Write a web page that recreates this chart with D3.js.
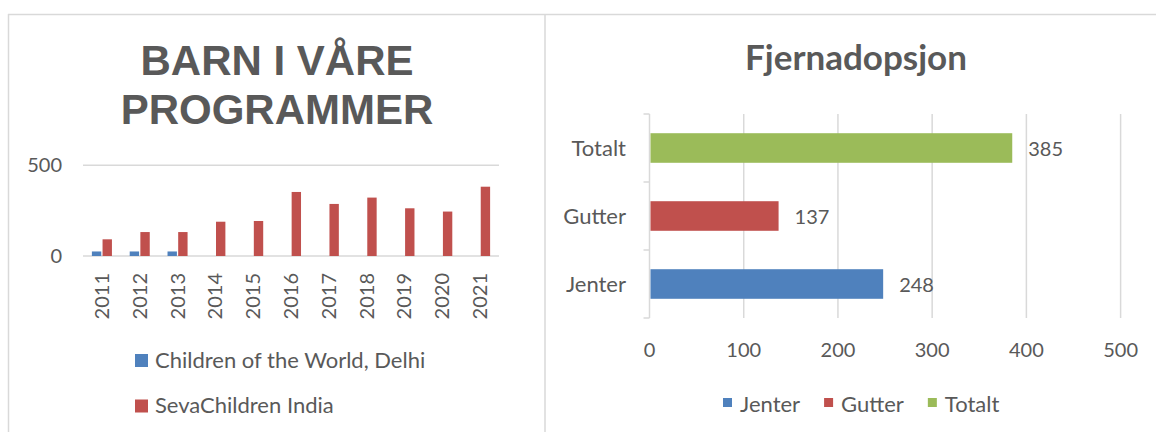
<!DOCTYPE html>
<html>
<head>
<meta charset="utf-8">
<script src="https://cdn.jsdelivr.net/npm/d3@7"></script>
<style>
  body { margin: 0; background: #fff; }
  text { font-family: Lato, "Open Sans", sans-serif; fill: #595959; }
</style>
</head>
<body>
<div id="chart"></div>
<script>
// left chart data
var years = ["2011","2012","2013","2014","2015","2016","2017","2018","2019","2020","2021"];
var cotwDelhi = [25, 25, 25, null, null, null, null, null, null, null, null];
var sevaIndia = [92, 132, 132, 189, 193, 353, 287, 322, 263, 245, 382];
var leftTicks = [0, 500];
var leftSeries = ["Children of the World, Delhi", "SevaChildren India"];

// right chart data
var kjonn = ["Jenter", "Gutter", "Totalt"];
var antall = [248, 137, 385];
var rightTicks = [0, 100, 200, 300, 400, 500];

var colors = ["#4f81bd", "#c0504d", "#9bbb59"];
var grid = "#d9d9d9";

var svg = d3.select("#chart")
            .append("svg")
            .attr("width", 1156)
            .attr("height", 432);

// frame lines
svg.append("line").attr("x1", 8).attr("x2", 1156).attr("y1", 14.5).attr("y2", 14.5)
   .style("stroke", grid).style("stroke-width", 1.5);
svg.append("line").attr("x1", 8.5).attr("x2", 8.5).attr("y1", 14).attr("y2", 432)
   .style("stroke", grid).style("stroke-width", 1.5);
svg.append("line").attr("x1", 545).attr("x2", 545).attr("y1", 14).attr("y2", 432)
   .style("stroke", grid).style("stroke-width", 1.5);

// ---------- left chart ----------
["BARN I VÅRE", "PROGRAMMER"].forEach(function(line, i) {
  svg.append("text")
     .attr("x", 277).attr("y", 75 + i * 49)
     .attr("text-anchor", "middle")
     .style("font-family", "'Liberation Sans', Arial, sans-serif")
     .style("font-weight", "bold")
     .style("font-size", "42px")
     .text(line);
});

var xLeft = d3.scaleBand()
              .domain(years)
              .range([83, 499]);
var xSub = d3.scaleBand()
             .domain([0, 1])
             .range([0, xLeft.bandwidth() * 0.53])
             .paddingInner(0.12);
var yLeft = d3.scaleLinear()
              .domain([0, 500])
              .range([256, 165.3]);

// gridlines
svg.append("g")
   .selectAll("line")
   .data(leftTicks)
   .enter()
   .append("line")
   .attr("x1", 83).attr("x2", 499)
   .attr("y1", function(d) { return yLeft(d); })
   .attr("y2", function(d) { return yLeft(d); })
   .style("stroke", grid).style("stroke-width", 1.5);

svg.append("g")
   .selectAll("text")
   .data(leftTicks)
   .enter()
   .append("text")
   .attr("x", 62)
   .attr("y", function(d) { return yLeft(d); })
   .attr("dy", "0.35em")
   .attr("text-anchor", "end")
   .style("font-size", "20px")
   .text(function(d) { return d; });

var groupOffset = (xLeft.bandwidth() - xSub.range()[1]) / 2;
[cotwDelhi, sevaIndia].forEach(function(series, s) {
  svg.append("g")
     .selectAll("rect")
     .data(series.map(function(v, i) { return {year: years[i], value: v}; })
                 .filter(function(d) { return d.value !== null; }))
     .enter()
     .append("rect")
     .attr("x", function(d) { return xLeft(d.year) + groupOffset + xSub(s); })
     .attr("y", function(d) { return yLeft(d.value); })
     .attr("width", xSub.bandwidth())
     .attr("height", function(d) { return yLeft(0) - yLeft(d.value); })
     .style("fill", colors[s]);
});

// year labels, rotated
svg.append("g")
   .selectAll("text")
   .data(years)
   .enter()
   .append("text")
   .attr("transform", function(d) {
     return "translate(" + (xLeft(d) + xLeft.bandwidth() / 2) + ",273) rotate(-90)";
   })
   .attr("dy", "0.35em")
   .attr("text-anchor", "end")
   .style("font-size", "20px")
   .text(function(d) { return d; });

// legend left
var legLeft = svg.append("g").selectAll("g")
                 .data(leftSeries)
                 .enter()
                 .append("g")
                 .attr("transform", function(d, i) { return "translate(135," + (354 + i * 45.5) + ")"; });
legLeft.append("rect")
       .attr("width", 13).attr("height", 13)
       .style("fill", function(d, i) { return colors[i]; });
legLeft.append("text")
       .attr("x", 20).attr("y", 13.5)
       .style("font-size", "22px")
       .text(function(d) { return d; });

// ---------- right chart ----------
svg.append("text")
   .attr("x", 856).attr("y", 70)
   .attr("text-anchor", "middle")
   .style("font-weight", "bold")
   .style("font-size", "35px")
   .text("Fjernadopsjon");

var xRight = d3.scaleLinear()
               .domain([0, 500])
               .range([649.5, 1120.6]);
var yRight = d3.scaleBand()
               .domain(kjonn.slice().reverse())
               .range([114, 318])
               .paddingInner(0.565)
               .paddingOuter(0.2825);

// vertical gridlines
svg.append("g")
   .selectAll("line")
   .data(rightTicks)
   .enter()
   .append("line")
   .attr("x1", function(d) { return xRight(d); })
   .attr("x2", function(d) { return xRight(d); })
   .attr("y1", 114).attr("y2", 318)
   .style("stroke", grid).style("stroke-width", 1.5);

// category tick marks
var step = yRight.step();
svg.append("g")
   .selectAll("line")
   .data(d3.range(kjonn.length + 1))
   .enter()
   .append("line")
   .attr("x1", xRight(0) - 6).attr("x2", xRight(0))
   .attr("y1", function(i) { return 114 + i * step; })
   .attr("y2", function(i) { return 114 + i * step; })
   .style("stroke", grid).style("stroke-width", 1.5);

svg.append("g")
   .selectAll("text")
   .data(rightTicks)
   .enter()
   .append("text")
   .attr("x", function(d) { return xRight(d); })
   .attr("y", 357)
   .attr("text-anchor", "middle")
   .style("font-size", "20px")
   .text(function(d) { return d; });

svg.append("g")
   .selectAll("text")
   .data(kjonn)
   .enter()
   .append("text")
   .attr("x", 626)
   .attr("y", function(d) { return yRight(d) + yRight.bandwidth() / 2; })
   .attr("dy", "0.35em")
   .attr("text-anchor", "end")
   .style("font-size", "22px")
   .text(function(d) { return d; });

svg.append("g")
   .selectAll("rect")
   .data(kjonn)
   .enter()
   .append("rect")
   .attr("x", xRight(0) + 1)
   .attr("y", function(d) { return yRight(d); })
   .attr("width", function(d, i) { return xRight(antall[i]) - xRight(0) - 1; })
   .attr("height", yRight.bandwidth())
   .style("fill", function(d, i) { return colors[i]; });

svg.append("g")
   .selectAll("text")
   .data(kjonn)
   .enter()
   .append("text")
   .attr("x", function(d, i) { return xRight(antall[i]) + 16; })
   .attr("y", function(d) { return yRight(d) + yRight.bandwidth() / 2; })
   .attr("dy", "0.4em")
   .style("font-size", "20px")
   .text(function(d, i) { return antall[i]; });

// legend right
var legX = 723;
kjonn.forEach(function(k, i) {
  var g = svg.append("g").attr("transform", "translate(" + legX + ",398)");
  g.append("rect").attr("width", 9).attr("height", 9).style("fill", colors[i]);
  var t = g.append("text").attr("x", 17).attr("y", 13.5)
           .style("font-size", "22px").text(k);
  legX += 17 + t.node().getComputedTextLength() + 24;
});
</script>
</body>
</html>
